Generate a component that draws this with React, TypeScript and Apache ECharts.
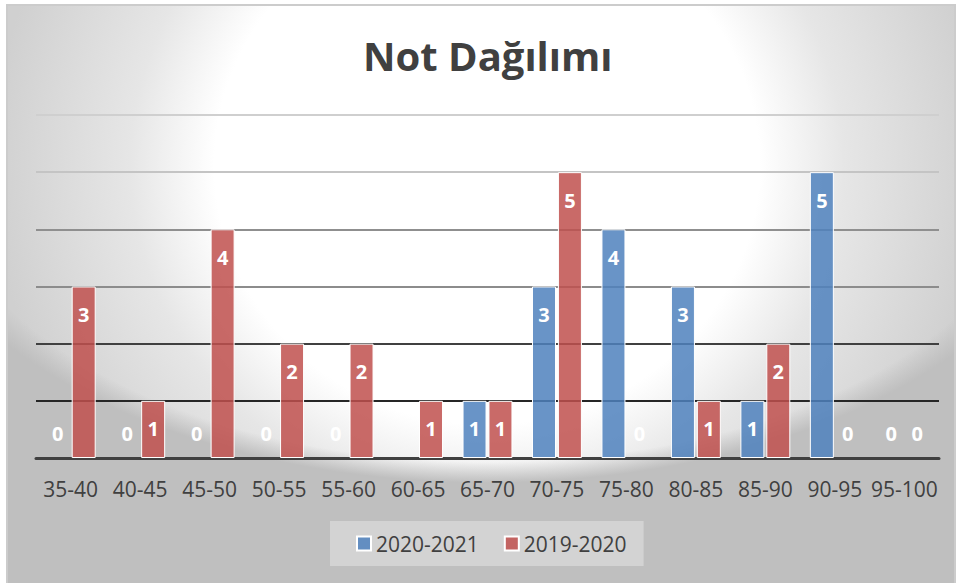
import React, { useEffect, useRef } from "react";
import * as echarts from "echarts";

const categories = ["35-40", "40-45", "45-50", "50-55", "55-60", "60-65", "65-70", "70-75", "75-80", "80-85", "85-90", "90-95", "95-100"];
const series2021 = [0, 0, 0, 0, 0, null, 1, 3, 4, 3, 1, 5, 0];
const series2020 = [3, 1, 4, 2, 2, 1, 1, 5, 0, 1, 2, 0, 0];
const seriesNames = ["2020-2021", "2019-2020"];
const titleText = "Not Dağılımı";

const FONT = "'Open Sans', 'Noto Sans', sans-serif";

function toData(arr: (number | null)[]) {
  return arr.map((v) =>
    v === 0
      ? {
          value: 0,
          itemStyle: { color: "rgba(0,0,0,0)", borderWidth: 0 },
          label: { position: "top", distance: 15 },
        }
      : v
  );
}

export default function App() {
  const ref = useRef<HTMLDivElement>(null);
  useEffect(() => {
    if (!ref.current) return;
    const chart = echarts.init(ref.current, undefined, { renderer: "svg" });
    const fx = 7, fy = 5, fw = 948, fh = 578;
    const sxA = 1.05;
    const sxB = 560 / 315;
    const label = {
      show: true,
      position: "insideTop",
      distance: 18,
      color: "#ffffff",
      fontWeight: "bold",
      fontSize: 20,
      fontFamily: FONT,
    };
    chart.setOption({
      animation: false,
      backgroundColor: "#ffffff",
      graphic: [
        {
          type: "rect",
          silent: true,
          z: -100,
          x: fx,
          y: fy,
          scaleX: sxA,
          shape: { x: 0, y: 0, width: fw / sxA, height: fh },
          style: {
            fill: {
              type: "radial",
              global: true,
              x: (487 - fx) / sxA,
              y: 165 - fy,
              r: 1.6 * 295,
              colorStops: [
                { offset: 0, color: "#ffffff" },
                { offset: 0.55, color: "#ffffff" },
                { offset: 0.72, color: "#e6e6e6" },
                { offset: 1, color: "#d0d0d0" },
              ],
            },
          },
        },
        {
          type: "rect",
          silent: true,
          z: -99,
          x: fx,
          y: fy,
          scaleX: sxB,
          shape: { x: 0, y: 0, width: fw / sxB, height: fh },
          style: {
            fill: {
              type: "radial",
              global: true,
              x: (487 - fx) / sxB,
              y: 150 - fy,
              r: 1.1 * 315,
              colorStops: [
                { offset: 0, color: "rgba(191,191,191,0)" },
                { offset: 0.9, color: "rgba(191,191,191,0)" },
                { offset: 0.96, color: "rgba(191,191,191,1)" },
                { offset: 1, color: "rgba(191,191,191,1)" },
              ],
            },
          },
        },
        {
          type: "rect",
          silent: true,
          z: -98,
          shape: { x: fx, y: fy, width: fw, height: fh + 4 },
          style: { fill: "none", stroke: "#cccccc", lineWidth: 2 },
        },
      ],
      title: {
        text: titleText,
        left: 358,
        top: 30,
        textStyle: {
          fontFamily: FONT,
          fontSize: 40,
          fontWeight: "bold",
          color: "#404040",
        },
      },
      legend: {
        data: seriesNames,
        left: 330,
        top: 521,
        orient: "horizontal",
        backgroundColor: "#d3d3d3",
        padding: [12, 17, 12, 26],
        itemWidth: 14,
        itemHeight: 14,
        itemGap: 25,
        icon: "rect",
        textStyle: { fontFamily: FONT, fontSize: 21, color: "#404040" },
      },
      grid: { left: 36, right: 22, top: 115, bottom: 125, containLabel: false },
      xAxis: {
        type: "category",
        data: categories,
        axisTick: { show: false },
        axisLine: { show: true, lineStyle: { color: "#404040", width: 3 } },
        axisLabel: {
          color: "#404040",
          fontSize: 21,
          fontFamily: FONT,
          margin: 20,
          interval: 0,
        },
        splitLine: { show: false },
      },
      yAxis: {
        type: "value",
        min: 0,
        max: 6,
        interval: 1,
        axisLabel: { show: false },
        axisLine: { show: false },
        axisTick: { show: false },
        splitLine: {
          show: true,
          lineStyle: {
            width: 2,
            color: ["#404040", "#262626", "#404040", "#8c8c8c", "#8f8f8f", "#c4c4c4", "#cfcfcf"],
          },
        },
      },
      series: [
        {
          name: seriesNames[0],
          type: "bar",
          data: toData(series2021),
          barWidth: 24,
          barGap: "8%",
          itemStyle: {
            color: "rgba(79,129,189,0.85)",
            borderColor: "#ffffff",
            borderWidth: 1,
          },
          label,
        },
        {
          name: seriesNames[1],
          type: "bar",
          data: toData(series2020),
          barWidth: 24,
          barGap: "8%",
          itemStyle: {
            color: "rgba(192,80,77,0.85)",
            borderColor: "#ffffff",
            borderWidth: 1,
          },
          label,
        },
      ],
    });
    return () => chart.dispose();
  }, []);
  return (
    <div
      ref={ref}
      style={{ position: "absolute", left: 0, top: 0, width: 961, height: 583 }}
    />
  );
}
